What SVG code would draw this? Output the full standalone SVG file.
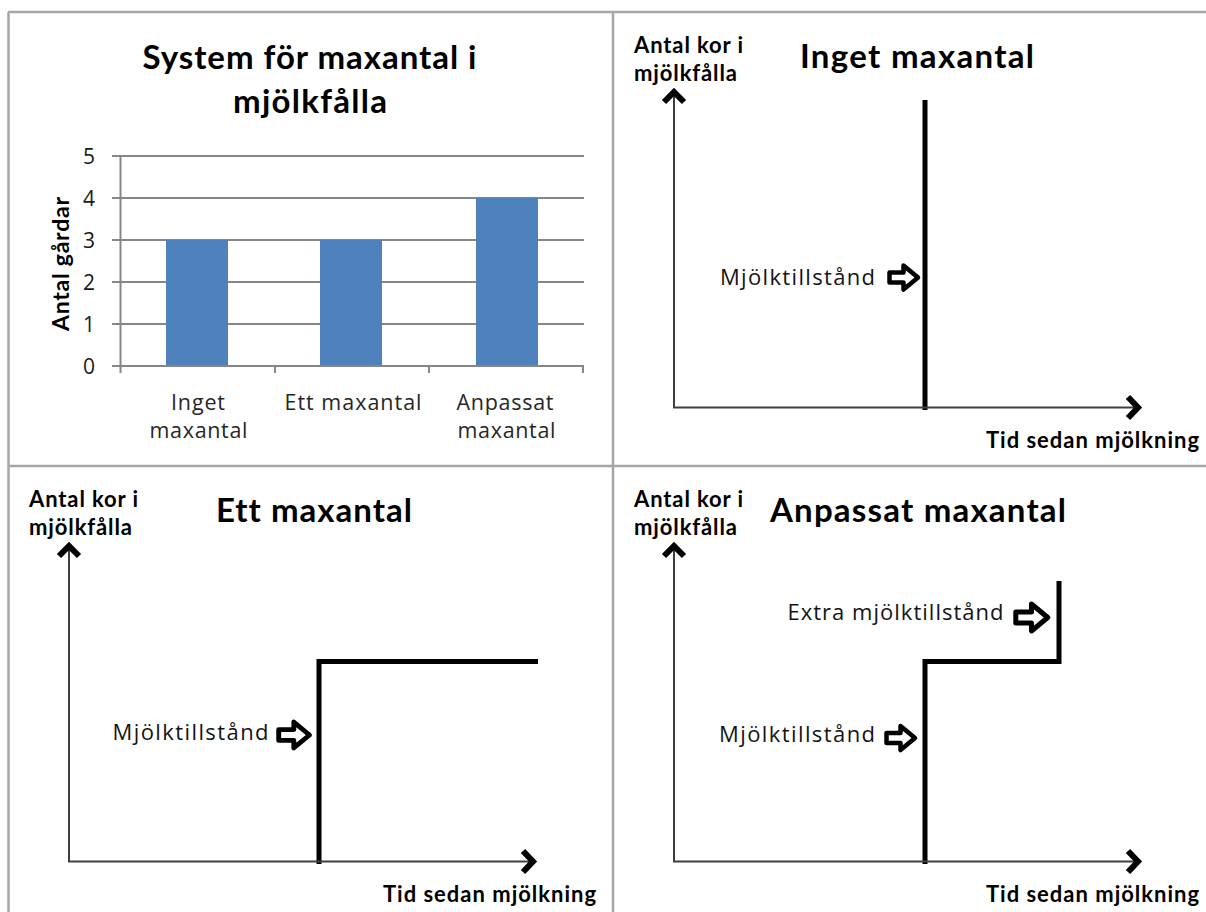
<svg xmlns="http://www.w3.org/2000/svg" width="1206" height="912" viewBox="0 0 1206 912">
<style>
text{font-variant-ligatures:none}
.frame{stroke:#a6a6a6;stroke-width:2.5;fill:none}
.grid{stroke:#868686;stroke-width:2;fill:none}
.bar{fill:#4f81bd}
.f{font-family:Lato,"Open Sans","Liberation Sans",sans-serif}
.r{font-family:"Open Sans",Lato,"Liberation Sans",sans-serif}
.tick{font-size:21px;fill:#1a1a1a;text-anchor:end}
.cat{font-size:21.5px;fill:#262626;text-anchor:middle}
.ctitle{font-size:33px;font-weight:bold;fill:#000;text-anchor:middle}
.lab{font-size:22px;font-weight:bold;fill:#000}
.ytitle{font-size:23px;font-weight:bold;fill:#000;text-anchor:middle}
.note{font-size:22px;fill:#141414;text-anchor:end}
.axis{stroke:#3f3f3f;stroke-width:2;fill:none}
.head{stroke:#000;stroke-width:6;fill:none;stroke-linejoin:miter}
.step{stroke:#000;stroke-width:5;fill:none;stroke-linejoin:miter}
.blk{fill:#fff;stroke:#000;stroke-width:4.5;stroke-linejoin:round}
</style>
<defs>
<path id="blkArrow" class="blk" d="M2.5,-5 H16.5 V-12 L31,0 L16.5,12 V5 H2.5 Z"/>
</defs>
<rect x="0" y="0" width="1206" height="912" fill="#fff"/>
<g id="frames">
<line class="frame" x1="8" y1="12" x2="1206" y2="12"/>
<line class="frame" x1="8.5" y1="12" x2="8.5" y2="912"/>
<line class="frame" x1="613" y1="12" x2="613" y2="912"/>
<line class="frame" x1="8" y1="466" x2="1206" y2="466"/>
</g>

<g id="chart">
<text class="f ctitle" x="309.5" y="69" textLength="334">System för maxantal i</text>
<text class="f ctitle" x="310" y="113" textLength="154">mjölkfålla</text>
<g class="grid">
<line x1="112" y1="156" x2="584" y2="156"/>
<line x1="112" y1="198" x2="584" y2="198"/>
<line x1="112" y1="240" x2="584" y2="240"/>
<line x1="112" y1="282" x2="584" y2="282"/>
<line x1="112" y1="324" x2="584" y2="324"/>
</g>
<rect class="bar" x="166" y="240" width="62" height="126"/>
<rect class="bar" x="320" y="240" width="62" height="126"/>
<rect class="bar" x="476" y="198" width="62" height="168"/>
<g class="grid">
<line x1="112" y1="366" x2="584" y2="366"/>
<line x1="120.5" y1="156" x2="120.5" y2="373"/>
<line x1="275" y1="366" x2="275" y2="373"/>
<line x1="429" y1="366" x2="429" y2="373"/>
<line x1="583" y1="366" x2="583" y2="373"/>
</g>
<g class="r tick">
<text x="95" y="163.5">5</text>
<text x="95" y="205.5">4</text>
<text x="95" y="247.5">3</text>
<text x="95" y="289.5">2</text>
<text x="95" y="331.5">1</text>
<text x="95" y="373.5">0</text>
</g>
<text class="f ytitle" transform="translate(69,264) rotate(-90)" x="0" y="0" textLength="134">Antal gårdar</text>
<g class="r cat">
<text x="198" y="410" textLength="54">Inget</text>
<text x="198.5" y="438" textLength="98">maxantal</text>
<text x="353" y="410" textLength="137">Ett maxantal</text>
<text x="505" y="410" textLength="97">Anpassat</text>
<text x="506.5" y="438" textLength="98">maxantal</text>
</g>
</g>

<g id="panel-inget">
<text class="f lab" x="634" y="53" textLength="109">Antal kor i</text>
<text class="f lab" x="634" y="81" textLength="103">mjölkfålla</text>
<text class="f ctitle" x="917" y="68" textLength="234">Inget maxantal</text>
<text class="f lab" x="986" y="448" textLength="213">Tid sedan mjölkning</text>
<line class="step" x1="925" y1="100" x2="925" y2="410"/>
<text class="r note" x="875" y="285" textLength="155">Mjölktillstånd</text>
<use href="#blkArrow" transform="translate(887,277.5)"/>
</g>

<g id="panel-ett">
<text class="f lab" x="29" y="507" textLength="109">Antal kor i</text>
<text class="f lab" x="29" y="535" textLength="103">mjölkfålla</text>
<text class="f ctitle" x="314" y="522" textLength="196">Ett maxantal</text>
<text class="f lab" x="383" y="902" textLength="213">Tid sedan mjölkning</text>
<path class="step" d="M319,864 V661.5 H538"/>
<text class="r note" x="268.5" y="740" textLength="156">Mjölktillstånd</text>
<use href="#blkArrow" transform="translate(276,735) scale(1.08)"/>
</g>

<g id="panel-anpassat">
<text class="f lab" x="634" y="507" textLength="109">Antal kor i</text>
<text class="f lab" x="634" y="535" textLength="103">mjölkfålla</text>
<text class="f ctitle" x="918" y="522" textLength="296">Anpassat maxantal</text>
<text class="f lab" x="986" y="902" textLength="213">Tid sedan mjölkning</text>
<path class="step" d="M925,864 V661.5 H1059 V581"/>
<text class="r note" x="1003.5" y="620" textLength="216">Extra mjölktillstånd</text>
<use href="#blkArrow" transform="translate(1013,617.5) scale(1.12)"/>
<text class="r note" x="875" y="742" textLength="156">Mjölktillstånd</text>
<use href="#blkArrow" transform="translate(884,738)"/>
</g>

<g id="connectors">
<path class="axis" d="M674,92 V407.5 H1138"/>
<polyline class="head" points="664,102 674,92 684,102"/>
<polyline class="head" points="1128,397 1138,407.5 1128,418"/>
<path class="axis" d="M69,546 V861.5 H533"/>
<polyline class="head" points="59,556 69,546 79,556"/>
<polyline class="head" points="523,851 533,861.5 523,872"/>
<path class="axis" d="M674,546 V861.5 H1138"/>
<polyline class="head" points="664,556 674,546 684,556"/>
<polyline class="head" points="1128,851 1138,861.5 1128,872"/>
</g>
</svg>
